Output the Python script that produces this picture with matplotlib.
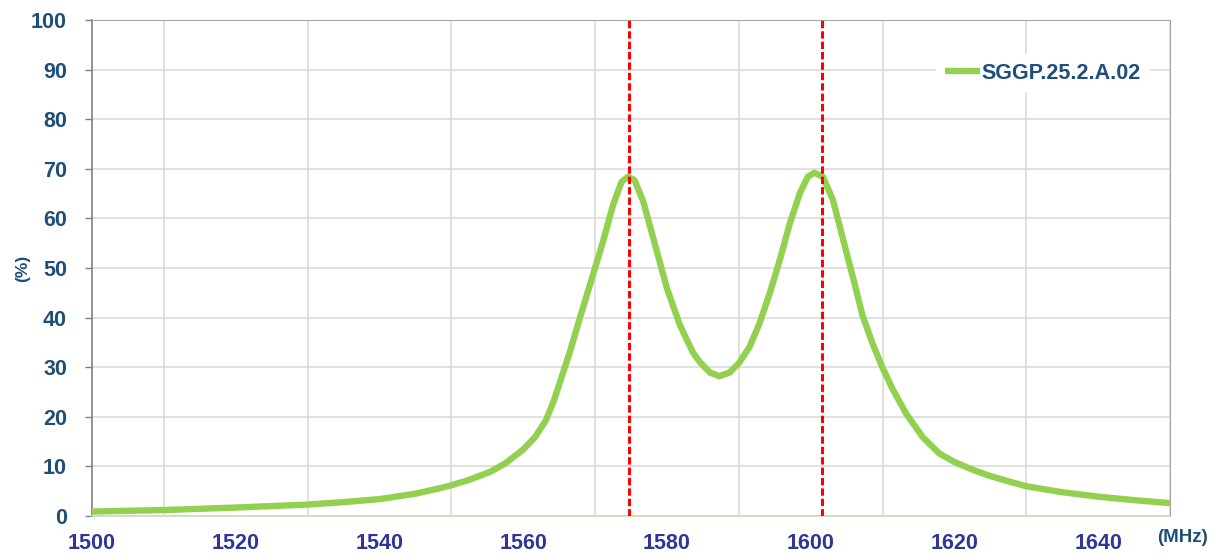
import matplotlib
matplotlib.use("Agg")
import matplotlib.pyplot as plt

# efficiency curve
freq = [1500, 1510, 1520, 1530, 1535, 1540, 1545, 1548.4, 1550, 1552.5,
        1555.4, 1557.5, 1560, 1561.7, 1563.2, 1564.3, 1565.3, 1566.5,
        1567.9, 1570, 1571.1, 1572.5, 1573.7, 1574.6, 1575.5, 1576.7,
        1578.1, 1580, 1581.8, 1583.6, 1584.6, 1586.0, 1587.3, 1588.7,
        1590, 1591.5, 1592.9, 1594.3, 1595.7, 1597.1, 1598.5, 1599.6,
        1600.5, 1601.7, 1603.1, 1604.9, 1606.1, 1607.2, 1608.6, 1610,
        1611.4, 1613.3, 1615.6, 1617.9, 1620, 1622.6, 1624.9, 1627.5,
        1630, 1635, 1640, 1645, 1650]
eff = [0.9, 1.2, 1.7, 2.3, 2.8, 3.4, 4.5, 5.6, 6.2, 7.3,
       8.9, 10.6, 13.4, 16.0, 19.4, 23.4, 27.8, 33.1,
       40.0, 50.0, 55.3, 62.7, 67.4, 68.4, 67.7, 63.4,
       56.0, 45.9, 38.5, 33.0, 31.0, 28.9, 28.2, 28.9,
       30.8, 34.1, 38.9, 44.9, 51.6, 59.0, 65.1, 68.4,
       69.2, 68.4, 63.7, 53.6, 46.9, 40.5, 34.8, 29.9,
       25.6, 20.6, 15.9, 12.6, 10.9, 9.3, 8.1, 7.0,
       6.0, 4.8, 3.9, 3.2, 2.6]
markers = [1574.7, 1601.6]
series_name = "SGGP.25.2.A.02"

x_ticks = list(range(1500, 1641, 20))
x_grid = list(range(1500, 1651, 10))
y_ticks = list(range(0, 101, 10))

plt.rcParams['font.family'] = ['Liberation Sans', 'DejaVu Sans']

fig = plt.figure(figsize=(12.2, 5.55), dpi=100)
ax = fig.add_axes([92 / 1220, 39 / 555, 1078 / 1220, 496 / 555])

ax.plot(freq, eff, color='#92D050', lw=4.6, solid_joinstyle='round',
        solid_capstyle='butt', label=series_name, zorder=3)
for m in markers:
    ax.axvline(m, color='#FF0000', lw=2.2, dashes=(2.4, 1.0), zorder=4)

ax.set_xlim(1500, 1650)
ax.set_ylim(0, 100)
ax.set_xticks(x_grid, minor=True)
ax.set_xticks(x_ticks)
ax.set_yticks(y_ticks)
ax.grid(True, which='minor', axis='x', color='#D9D9D9', lw=1.1)
ax.grid(True, which='major', axis='y', color='#D9D9D9', lw=1.1)
ax.set_axisbelow(True)

ax.tick_params(axis='x', which='both', length=0, pad=12,
               labelsize=15.5, labelcolor='#2F3699')
ax.tick_params(axis='y', length=5, width=1, color='#808080', pad=13,
               labelsize=15.5, labelcolor='#1F4E79')
for lab in ax.get_xticklabels() + ax.get_yticklabels():
    lab.set_fontweight('bold')

for side in ['top', 'right']:
    ax.spines[side].set_color('#A6A6A6')
ax.spines['left'].set_color('#808080')
ax.spines['left'].set_linewidth(1.2)
ax.spines['bottom'].set_color('#C9DDB8')
ax.spines['bottom'].set_linewidth(1.2)

fig.text(23 / 1220, 1 - 268 / 555, '(%)', rotation=90, ha='center',
         va='center', fontsize=12.5, fontweight='bold', color='#1F4E79')
fig.text(1183 / 1220, 1 - 538 / 555, '(MHz)', ha='center', va='center',
         fontsize=13.5, fontweight='bold', color='#1F4E79')

leg = ax.legend(loc='center right', bbox_to_anchor=(0.981, 0.893),
                borderaxespad=0, borderpad=0.4, handlelength=1.6,
                handletextpad=0.1, frameon=True, fancybox=False,
                prop={'size': 15.5, 'weight': 'bold'})
leg.get_frame().set_edgecolor('none')
leg.get_frame().set_facecolor('white')
leg.get_frame().set_alpha(1)
for t in leg.get_texts():
    t.set_color('#1F4E79')

fig.savefig('out.png', dpi=100)
